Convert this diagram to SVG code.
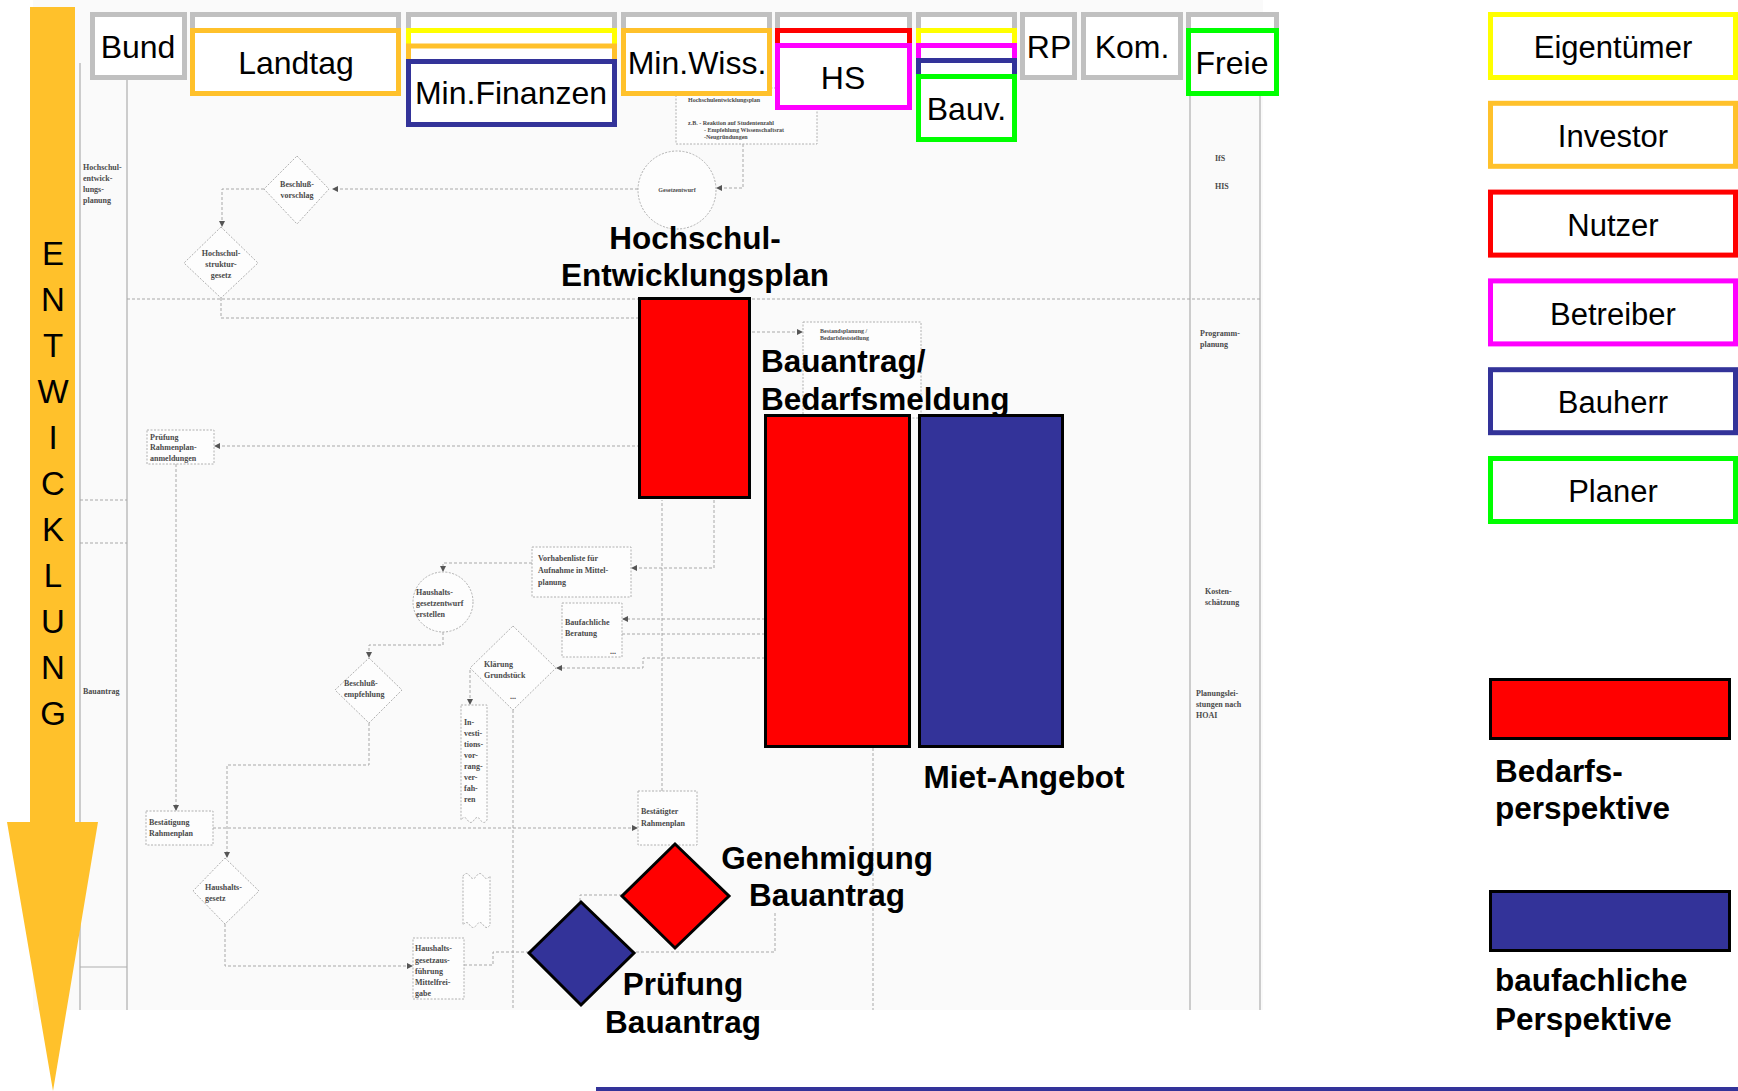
<svg xmlns="http://www.w3.org/2000/svg" width="1738" height="1091" viewBox="0 0 1738 1091">
<defs>
<style>
.hb{fill:#fff;stroke-width:5}
.g{stroke:#C0C0C0}.o{stroke:#FFC12B}.y{stroke:#FFFF00}.r{stroke:#FF0000}.m{stroke:#FF00FF}.b{stroke:#333399}.gr{stroke:#00FF00}
.ht{font-family:"Liberation Sans",Arial,sans-serif;font-size:32px;text-anchor:middle;fill:#000}
.lt{font-family:"Liberation Sans",Arial,sans-serif;font-size:31px;text-anchor:middle;fill:#000}
.bl{font-family:"Liberation Sans",Arial,sans-serif;font-size:31.5px;font-weight:bold;fill:#000}
.c{text-anchor:middle}
.et{font-family:"Liberation Sans",Arial,sans-serif;font-size:33px;text-anchor:middle;fill:#000}
.blk{stroke:#000;stroke-width:3}
.fr{fill:#FF0000}.fb{fill:#333399}
.dl{fill:none;stroke:#a8a8a8;stroke-width:1;stroke-dasharray:3 2}
.sl{fill:none;stroke:#adadad;stroke-width:1.2}
.sn{fill:#fdfdfd;stroke:#b0b0b0;stroke-width:1;stroke-dasharray:2 1.5}
.st{font-family:"Liberation Serif","Times New Roman",serif;font-weight:bold;font-size:8px;fill:#4a4a4a}
.sm{font-size:6px}
</style>
<marker id="sa" markerWidth="6" markerHeight="6" refX="5" refY="3" orient="auto" markerUnits="userSpaceOnUse"><path d="M0,0 L6,3 L0,6 z" fill="#555"/></marker>
</defs>
<rect width="1738" height="1091" fill="#fff"/>
<rect id="scan-bg" x="33" y="0" width="1230" height="1010" fill="#FAFAFA"/>

<g id="connectors">
<path class="sl" d="M80,63 V1010"/>
<path class="sl" d="M127,80 V1010"/>
<path class="dl" d="M80,500 H127 M80,543 H127"/>
<path class="sl" d="M80,967 H127"/>
<path class="sl" d="M1190,96 V1010"/>
<path class="sl" d="M1260,20 V1010"/>
<path class="dl" d="M127,299 H1260"/>
<path class="dl" d="M638,189 H333" marker-end="url(#sa)"/>
<path class="dl" d="M264,189 H222 V226" marker-end="url(#sa)"/>
<path class="dl" d="M743,144 V188 H717" marker-end="url(#sa)"/>
<path class="dl" d="M221,298 V318 H640"/>
<path class="dl" d="M752,332 H802" marker-end="url(#sa)"/>
<path class="dl" d="M640,446 H215" marker-end="url(#sa)"/>
<path class="dl" d="M176,464 V810" marker-end="url(#sa)"/>
<path class="dl" d="M213,828 H637" marker-end="url(#sa)"/>
<path class="dl" d="M662,791 V500"/>
<path class="dl" d="M532,563 H443 V571" marker-end="url(#sa)"/>
<path class="dl" d="M714,500 V568 H632" marker-end="url(#sa)"/>
<path class="dl" d="M765,619 H623" marker-end="url(#sa)"/>
<path class="dl" d="M622,634 H765"/>
<path class="dl" d="M765,658 H643 V668 H557" marker-end="url(#sa)"/>
<path class="dl" d="M470,670 V704" marker-end="url(#sa)"/>
<path class="dl" d="M513,710 V1010"/>
<path class="dl" d="M443,632 V645 H369 V657" marker-end="url(#sa)"/>
<path class="dl" d="M369,723 V765 H227 V857" marker-end="url(#sa)"/>
<path class="dl" d="M225,924 V966 H412" marker-end="url(#sa)"/>
<path class="dl" d="M464,965 H493 V952 H775 V913"/>
<path class="dl" d="M580,901 V895 H622"/>
<path class="dl" d="M873,748 V1010"/>
</g>

<g id="scan-hep-label"><text class="st" x="83" y="170">Hochschul-</text><text class="st" x="83" y="181">entwick-</text><text class="st" x="83" y="192">lungs-</text><text class="st" x="83" y="203">planung</text></g>
<g id="scan-beschlussvorschlag"><polygon class="sn" points="297,156 329,189 297,224 264,189"/><text class="st c" x="297" y="187">Beschluß-</text><text class="st c" x="297" y="198">vorschlag</text></g>
<g id="scan-hsg"><polygon class="sn" points="221,227 258,263 221,298 184,263"/><text class="st c" x="221" y="256">Hochschul-</text><text class="st c" x="221" y="267">struktur-</text><text class="st c" x="221" y="278">gesetz</text></g>
<g id="scan-hep-box"><rect class="sn" x="676" y="88" width="141" height="56"/><text class="st sm" x="688" y="102">Hochschulentwicklungsplan</text><text class="st sm" x="688" y="125">z.B.  - Reaktion auf Studentenzahl</text><text class="st sm" x="704" y="132">- Empfehlung Wissenschaftsrat</text><text class="st sm" x="704" y="139">-Neugründungen</text></g>
<g id="scan-gesetzentwurf"><circle class="sn" cx="677" cy="190" r="39"/><text class="st sm c" x="677" y="192">Gesetzentwurf</text></g>
<g id="scan-bestand"><rect class="sn" x="803" y="322" width="118" height="96"/><text class="st sm" x="820" y="333">Bestandsplanung /</text><text class="st sm" x="820" y="340">Bedarfsfeststellung</text></g>
<g id="scan-pruefung"><rect class="sn" x="147" y="430" width="67" height="34"/><text class="st" x="150" y="440">Prüfung</text><text class="st" x="150" y="450">Rahmenplan-</text><text class="st" x="150" y="461">anmeldungen</text></g>
<g id="scan-vorhabenliste"><rect class="sn" x="532" y="547" width="99" height="50"/><text class="st" x="538" y="561">Vorhabenliste für</text><text class="st" x="538" y="573">Aufnahme in Mittel-</text><text class="st" x="538" y="585">planung</text></g>
<g id="scan-hhentwurf"><circle class="sn" cx="443" cy="602" r="30"/><text class="st" x="416" y="595">Haushalts-</text><text class="st" x="416" y="606">gesetzentwurf</text><text class="st" x="416" y="617">erstellen</text></g>
<g id="scan-beratung"><rect class="sn" x="562" y="603" width="60" height="54"/><text class="st" x="565" y="625">Baufachliche</text><text class="st" x="565" y="636">Beratung</text><text class="st" x="610" y="654">...</text></g>
<g id="scan-klaerung"><polygon class="sn" points="513,626 556,668 513,710 470,668"/><text class="st" x="484" y="667">Klärung</text><text class="st" x="484" y="678">Grundstück</text><text class="st c" x="513" y="699">...</text></g>
<g id="scan-beschlussempf"><polygon class="sn" points="369,658 402,690 369,723 335,690"/><text class="st" x="344" y="686">Beschluß-</text><text class="st" x="344" y="697">empfehlung</text></g>
<g id="scan-bauantrag-label"><text class="st" x="83" y="694">Bauantrag</text></g>
<g id="scan-ivv"><path class="sn" d="M461,705 H487 V820 q-3.25,5 -6.5,0 t-6.5,0 t-6.5,0 t-6.5,0 Z"/><text class="st" x="464" y="725">In-</text><text class="st" x="464" y="736">vesti-</text><text class="st" x="464" y="747">tions-</text><text class="st" x="464" y="758">vor-</text><text class="st" x="464" y="769">rang-</text><text class="st" x="464" y="780">ver-</text><text class="st" x="464" y="791">fah-</text><text class="st" x="464" y="802">ren</text></g>
<g id="scan-wave2"><path class="sn" d="M463,876 q3.4,-5 6.75,0 t6.75,0 t6.75,0 t6.75,0 V925 q-3.4,5 -6.75,0 t-6.75,0 t-6.75,0 t-6.75,0 Z"/></g>
<g id="scan-bestaetigung"><rect class="sn" x="146" y="811" width="67" height="34"/><text class="st" x="149" y="825">Bestätigung</text><text class="st" x="149" y="836">Rahmenplan</text></g>
<g id="scan-bestaetigter"><rect class="sn" x="638" y="791" width="59" height="54"/><text class="st" x="641" y="814">Bestätigter</text><text class="st" x="641" y="826">Rahmenplan</text></g>
<g id="scan-hhgesetz"><polygon class="sn" points="225,858 259,891 225,924 193,891"/><text class="st" x="205" y="890">Haushalts-</text><text class="st" x="205" y="901">gesetz</text></g>
<g id="scan-hhausfuehrung"><rect class="sn" x="413" y="938" width="51" height="61"/><text class="st" x="415" y="951">Haushalts-</text><text class="st" x="415" y="963">gesetzaus-</text><text class="st" x="415" y="974">führung</text><text class="st" x="415" y="985">Mittelfrei-</text><text class="st" x="415" y="996">gabe</text></g>
<g id="scan-right-col"><text class="st" x="1215" y="161">IfS</text><text class="st" x="1215" y="189">HIS</text><text class="st" x="1200" y="336">Programm-</text><text class="st" x="1200" y="347">planung</text><text class="st" x="1205" y="594">Kosten-</text><text class="st" x="1205" y="605">schätzung</text><text class="st" x="1196" y="696">Planungslei-</text><text class="st" x="1196" y="707">stungen nach</text><text class="st" x="1196" y="718">HOAI</text></g>

<g id="col-bund"><rect class="hb g" x="92.5" y="14.5" width="92" height="63"/><text class="ht" x="138" y="58">Bund</text></g>
<g id="col-landtag"><rect class="hb g" x="192.5" y="14.5" width="206" height="63"/><rect class="hb o" x="192.5" y="30.5" width="206" height="63"/><text class="ht" x="296" y="74">Landtag</text></g>
<g id="col-minfinanzen"><rect class="hb g" x="408.5" y="14.5" width="206" height="63"/><rect class="hb y" x="408.5" y="30.5" width="206" height="63"/><rect class="hb o" x="408.5" y="46" width="206" height="63"/><rect class="hb b" x="408.5" y="61.5" width="206" height="63"/><text class="ht" x="511" y="104">Min.Finanzen</text></g>
<g id="col-minwiss"><rect class="hb g" x="623.5" y="14.5" width="146" height="63"/><rect class="hb o" x="623.5" y="30.5" width="146" height="63"/><text class="ht" x="697" y="74">Min.Wiss.</text></g>
<g id="col-hs"><rect class="hb g" x="777.5" y="14.5" width="132" height="63"/><rect class="hb r" x="777.5" y="30.5" width="132" height="63"/><rect class="hb m" x="777.5" y="45.5" width="132" height="62"/><text class="ht" x="843" y="89">HS</text></g>
<g id="col-bauv"><rect class="hb g" x="918.5" y="14.5" width="96" height="63"/><rect class="hb y" x="918.5" y="30.5" width="96" height="63"/><rect class="hb m" x="918.5" y="45.5" width="96" height="63"/><rect class="hb b" x="918.5" y="60.5" width="96" height="63"/><rect class="hb gr" x="918.5" y="76.5" width="96" height="63"/><text class="ht" x="966.5" y="120">Bauv.</text></g>
<g id="col-rp"><rect class="hb g" x="1022.5" y="14.5" width="52" height="63"/><text class="ht" x="1049" y="58">RP</text></g>
<g id="col-kom"><rect class="hb g" x="1083.5" y="14.5" width="97" height="63"/><text class="ht" x="1132" y="58">Kom.</text></g>
<g id="col-freie"><rect class="hb g" x="1188.5" y="14.5" width="88" height="63"/><rect class="hb gr" x="1188.5" y="30.5" width="88" height="63"/><text class="ht" x="1232" y="74">Freie</text></g>

<g id="hep"><rect class="fr blk" x="639.5" y="298.5" width="110" height="199"/><text class="bl c" x="695" y="249">Hochschul-</text><text class="bl c" x="695" y="286">Entwicklungsplan</text></g>
<g id="bedarfsmeldung"><rect class="fr blk" x="765.5" y="415.5" width="144" height="331"/><text class="bl" x="761" y="372">Bauantrag/</text><text class="bl" x="761" y="410">Bedarfsmeldung</text></g>
<g id="mietangebot"><rect class="fb blk" x="919.5" y="415.5" width="143" height="331"/><text class="bl c" x="1024" y="788">Miet-Angebot</text></g>
<g id="genehmigung"><polygon class="fr blk" points="675,844 729,896 675,948 622,896"/><text class="bl c" x="827" y="869">Genehmigung</text><text class="bl c" x="827" y="906">Bauantrag</text></g>
<g id="pruefung"><polygon class="fb blk" points="581,902 634,953 581,1005 529,953"/><text class="bl c" x="683" y="995">Prüfung</text><text class="bl c" x="683" y="1033">Bauantrag</text></g>

<g id="entwicklung-arrow"><polygon points="30,7 75,7 75,822 98,822 53,1091 7,822 30,822" fill="#FFC12B"/>
<text class="et" x="53" y="265">E</text><text class="et" x="53" y="311">N</text><text class="et" x="53" y="357">T</text><text class="et" x="53" y="403">W</text><text class="et" x="53" y="449">I</text><text class="et" x="53" y="495">C</text><text class="et" x="53" y="541">K</text><text class="et" x="53" y="587">L</text><text class="et" x="53" y="633">U</text><text class="et" x="53" y="679">N</text><text class="et" x="53" y="725">G</text></g>

<g id="legend-eigentuemer"><rect class="hb y" x="1490.5" y="14.5" width="245" height="63"/><text class="lt" x="1613" y="58">Eigentümer</text></g>
<g id="legend-investor"><rect class="hb o" x="1490.5" y="103.3" width="245" height="63"/><text class="lt" x="1613" y="147">Investor</text></g>
<g id="legend-nutzer"><rect class="hb r" x="1490.5" y="192.1" width="245" height="63"/><text class="lt" x="1613" y="236">Nutzer</text></g>
<g id="legend-betreiber"><rect class="hb m" x="1490.5" y="280.9" width="245" height="63"/><text class="lt" x="1613" y="325">Betreiber</text></g>
<g id="legend-bauherr"><rect class="hb b" x="1490.5" y="369.7" width="245" height="63"/><text class="lt" x="1613" y="413">Bauherr</text></g>
<g id="legend-planer"><rect class="hb gr" x="1490.5" y="458.5" width="245" height="63"/><text class="lt" x="1613" y="502">Planer</text></g>
<g id="legend-bedarf"><rect class="fr blk" x="1490.5" y="679.5" width="239" height="59"/><text class="bl" x="1495" y="782">Bedarfs-</text><text class="bl" x="1495" y="819">perspektive</text></g>
<g id="legend-baufach"><rect class="fb blk" x="1490.5" y="891.5" width="239" height="59"/><text class="bl" x="1495" y="991">baufachliche</text><text class="bl" x="1495" y="1030">Perspektive</text></g>
<rect id="bottom-bar" x="596" y="1087" width="1142" height="4" fill="#333399"/>
</svg>
